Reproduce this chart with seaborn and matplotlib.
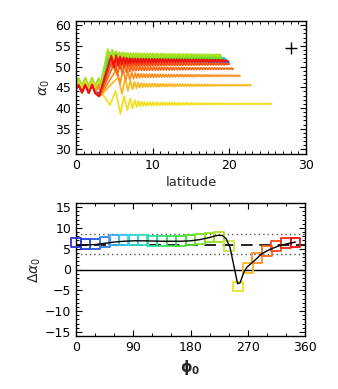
import numpy as np
import pandas as pd
import matplotlib
matplotlib.use("Agg")
import matplotlib.pyplot as plt
from matplotlib.ticker import MultipleLocator
import seaborn as sns

# ---------------- data ----------------
phi0 = [0, 15, 30, 45, 60, 75, 90, 105, 120, 135, 150, 165,
        180, 195, 210, 225, 240, 255, 270, 285, 300, 315, 330, 345]
d_alpha = [6.5, 6.2, 6.2, 6.6, 7.0, 7.1, 7.1, 7.1, 6.85, 6.85, 6.85, 6.9,
           7.1, 7.3, 7.7, 7.9, 5.7, -4.1, 0.4, 2.8, 4.5, 5.65, 6.4, 6.5]

line_phi = [0, 15, 30, 45, 60, 75, 90, 105, 120, 135, 150, 165, 180, 195,
            210, 222, 230, 236, 242, 248, 254, 258, 264, 269, 281, 292,
            305, 321, 335, 345]
line_val = [5.8, 5.9, 6.0, 6.3, 6.6, 6.8, 6.9, 6.9, 6.85, 6.8, 6.8, 6.8,
            6.9, 7.2, 7.7, 8.2, 8.2, 7.4, 5.4, 1.0, -3.4, -3.2, -0.6, 0.6,
            2.2, 3.8, 4.85, 5.8, 6.3, 6.6]

mean_d = 5.8
sig_hi = 8.5
sig_lo = 3.7

palette = ['#3030d8', '#2040e0', '#2858e0', '#3880e8', '#40a8f0', '#30c8f0',
           '#30d8e0', '#30e0c8', '#30e0a8', '#30e080', '#38e058', '#40e040',
           '#50e030', '#78e030', '#90e020', '#a8e020', '#c8e840', '#f0e020',
           '#f8b820', '#f89020', '#f86818', '#f84818', '#f82818', '#f01010']

# top panel: per-curve readings
pre_level = [44.8, 44.8, 44.9, 45.0, 45.3, 45.5, 45.5, 45.6, 45.6, 45.7, 45.8, 45.9,
             46.0, 46.1, 46.2, 46.3, 45.5, 45.0, 44.8, 44.7, 44.7, 44.6, 44.6, 44.6]
js_lat = [3.1, 3.1, 3.1, 3.15, 3.2, 3.2, 3.2, 3.2, 3.2, 3.25, 3.25, 3.25,
          3.25, 3.25, 3.25, 3.25, 3.2, 3.5, 3.3, 3.2, 3.1, 3.05, 3.0, 3.0]
js_val = [43.5, 43.5, 43.6, 43.8, 44.2, 44.5, 44.6, 44.8, 45.0, 45.2, 45.4, 45.6,
          45.8, 45.9, 46.0, 46.1, 44.0, 43.2, 43.2, 43.1, 43.0, 42.9, 42.8, 42.8]
pk_lat = [4.5, 4.5, 4.5, 4.45, 4.4, 4.35, 4.35, 4.3, 4.3, 4.3, 4.3, 4.25,
          4.25, 4.2, 4.2, 4.15, 4.6, 4.43, 5.5, 5.3, 5.0, 4.8, 4.6, 4.6]
pk_val = [52.6, 52.6, 52.7, 52.9, 53.2, 53.4, 53.4, 53.4, 53.3, 53.3, 53.3, 53.4,
          53.6, 53.8, 54.0, 54.2, 51.8, 40.7, 47.4, 49.4, 50.8, 51.8, 52.5, 52.6]
alpha_end = [51.2, 51.1, 51.1, 51.5, 51.9, 52.0, 52.0, 52.0, 51.8, 51.8, 51.8, 51.9,
             52.0, 52.3, 52.6, 52.8, 50.6, 41.0, 45.5, 47.8, 49.5, 50.6, 51.3, 51.5]
lat_end = [19.9, 19.9, 19.8, 19.7, 19.5, 19.4, 19.3, 19.2, 19.2, 19.1, 19.1, 19.0,
           19.0, 18.9, 18.9, 18.9, 19.3, 25.5, 22.8, 21.4, 20.5, 20.0, 19.7, 19.6]
osc_amp = [1.0, 1.0, 1.0, 1.0, 1.0, 1.0, 1.0, 1.0, 1.0, 1.0, 1.0, 1.0,
           1.0, 1.0, 1.0, 1.0, 1.0, 2.6, 1.6, 1.4, 1.2, 1.1, 1.0, 1.0]
osc_hp = [0.32, 0.32, 0.32, 0.32, 0.3, 0.3, 0.3, 0.3, 0.3, 0.3, 0.3, 0.3,
          0.3, 0.3, 0.3, 0.3, 0.35, 0.75, 0.5, 0.45, 0.4, 0.36, 0.34, 0.34]

wig_lat = [0.0, 0.35, 0.78, 1.2, 1.65, 2.1, 2.5, 2.95]
wig_off = [0.0, 0.9, -0.9, 1.0, -1.0, 1.0, -1.0, 0.9]
env = [1.0, 0.75, 0.55, 0.42, 0.32, 0.24, 0.18, 0.13, 0.09, 0.06, 0.04, 0.02, 0.0]
ripple_lat = [4, 8, 12, 16, 20, 26]
ripple_amp = [0.55, 0.45, 0.32, 0.22, 0.14, 0.1]
ripple_hp = 0.18

plus_lat, plus_alpha = [28.0], [54.4]

# ---------------- figure ----------------
sns.set_style("ticks")
plt.rcParams['font.family'] = ['DejaVu Sans']
plt.rcParams['mathtext.fontset'] = 'dejavusans'
fig = plt.figure(figsize=(3.38, 3.89), dpi=100)
ax1 = fig.add_axes([76/338, 1-154/389, 230/338, 133/389])
ax2 = fig.add_axes([76/338, 1-336/389, 229/338, 133/389])

# top panel curves
for i in range(len(phi0)):
    lat, val = [], []
    for wl, wo in zip(wig_lat, wig_off):
        if wl < js_lat[i] - 0.15:
            lat.append(wl); val.append(pre_level[i] + wo)
    lat += [js_lat[i], pk_lat[i]]
    val += [js_val[i], pk_val[i]]
    x = pk_lat[i]
    sign = -1 if pk_val[i] > alpha_end[i] else 1
    k = 0
    while True:
        e = env[k] if k < len(env) else 0.0
        h = ripple_hp + (osc_hp[i] - ripple_hp) * e
        x += h
        if x >= lat_end[i]:
            break
        r = np.interp(x, ripple_lat, ripple_amp)
        lat.append(x)
        val.append(alpha_end[i] + sign * (osc_amp[i] * e + r))
        sign *= -1
        k += 1
    lat.append(lat_end[i]); val.append(alpha_end[i])
    sns.lineplot(x=lat, y=val, color=palette[i], lw=1.25, sort=False,
                 estimator=None, ax=ax1)

sns.scatterplot(x=plus_lat, y=plus_alpha, marker='+', s=70, color='black',
                linewidth=1.0, ax=ax1)

ax1.set_xlim(0, 30)
ax1.set_ylim(28.9, 61.0)
ax1.set_xticks([0, 10, 20, 30])
ax1.set_yticks([30, 35, 40, 45, 50, 55, 60])
ax1.xaxis.set_minor_locator(MultipleLocator(1))
ax1.yaxis.set_minor_locator(MultipleLocator(1))
ax1.set_xlabel('latitude', fontsize=9.5, labelpad=3)
ax1.set_ylabel(r'$\alpha_0$', fontsize=10, labelpad=2)

# bottom panel
ax2.axhline(0, color='black', lw=1.0, zorder=1)
ax2.axhline(mean_d, color='black', lw=1.2, ls=(0, (7, 4)), zorder=1)
ax2.axhline(sig_hi, color='#555555', lw=1.0, ls=(0, (1, 2.2)), zorder=1)
ax2.axhline(sig_lo, color='#555555', lw=1.0, ls=(0, (1, 2.2)), zorder=1)

ax2.scatter(phi0, d_alpha, marker='s', s=50, facecolors='none',
            edgecolors=palette, linewidths=1.3, clip_on=False, zorder=3)
sns.lineplot(x=line_phi, y=line_val, color='black', lw=1.0, sort=False,
             estimator=None, ax=ax2, zorder=4)

ax2.set_xlim(0, 360)
ax2.set_ylim(-16, 16)
ax2.set_xticks([0, 90, 180, 270, 360])
ax2.set_yticks([-15, -10, -5, 0, 5, 10, 15])
ax2.xaxis.set_minor_locator(MultipleLocator(30))
ax2.yaxis.set_minor_locator(MultipleLocator(1))
ax2.set_xlabel(r'$\mathbf{\phi_0}$', fontsize=10.5, labelpad=3)
ax2.set_ylabel(r'$\Delta\alpha_0$', fontsize=10, labelpad=1)

for ax in (ax1, ax2):
    for s in ax.spines.values():
        s.set_visible(True)
        s.set_linewidth(1.0)
        s.set_color('black')
    ax.tick_params(which='both', direction='in', top=True, right=True,
                   bottom=True, left=True, colors='black', labelsize=9)
    ax.tick_params(which='major', length=4, width=0.8)
    ax.tick_params(which='minor', length=2, width=0.7)

fig.savefig('out.png', dpi=100)
